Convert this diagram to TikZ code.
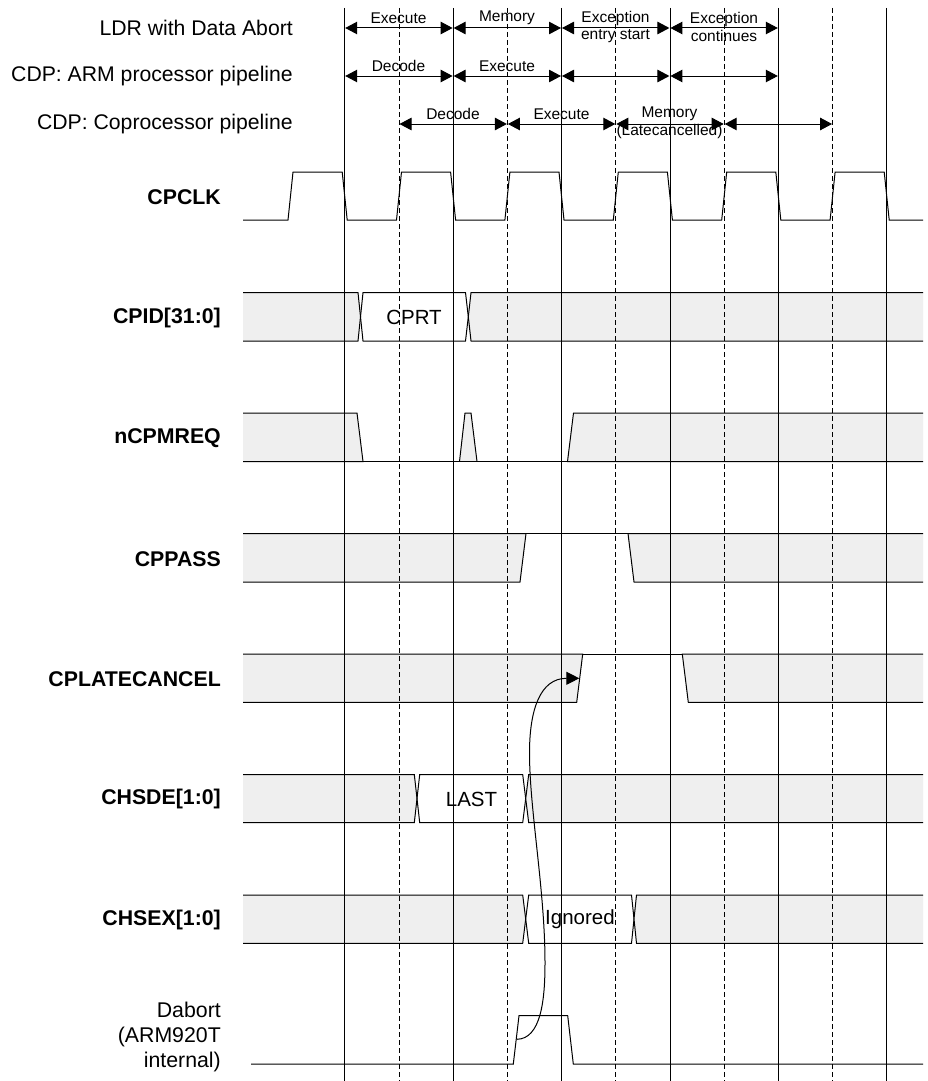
\documentclass[tikz,border=0pt]{standalone}
\usepackage{xcolor}
\usepackage{fontspec}
\setmainfont{Liberation Sans}
\usetikzlibrary{arrows.meta, positioning}
\definecolor{busgrey}{RGB}{239,239,239}

\begin{document}
\begin{tikzpicture}[
      x=1pt, y=-1pt,
      sig/.style={draw, line width=1pt, line join=miter},
      bus/.style={sig, fill=busgrey},
      grid solid/.style={line width=0.8pt},
      grid dash/.style={line width=0.8pt, dash pattern=on 5pt off 3pt},
      span/.style={{Triangle[length=12pt,width=12.5pt]}-{Triangle[length=12pt,width=12.5pt]}, line width=1pt, shorten <=0.5pt, shorten >=0.5pt},
      flow/.style={-{Triangle[length=13pt,width=13pt]}, line width=1pt},
      pipe/.style={anchor=east, inner sep=0pt, font=\fontsize{21.2}{25}\selectfont},
      signame/.style={anchor=east, align=right, inner sep=0pt, font=\fontsize{21.3}{25}\selectfont\bfseries},
      phase/.style={align=center, inner sep=0pt, font=\fontsize{15.5}{17.5}\selectfont},
      value/.style={inner sep=0pt, font=\fontsize{20.5}{24}\selectfont}
    ]
    \useasboundingbox (0,0) rectangle (927,1081);
    \fill[white] (0,0) rectangle (927,1081);

    % grey bus rows
    \draw[bus] (243,292.6) -- (358,292.6) -- (360.5,316.8) -- (358,341) -- (243,341);
    \draw[sig] (360.5,316.8) -- (363,292.6) -- (465.5,292.6) -- (468.3,316.8) -- (465.5,341) -- (363,341) -- cycle;
    \draw[bus] (923,292.6) -- (471,292.6) -- (468.3,316.8) -- (471,341) -- (923,341);

    \draw[bus] (243,413) -- (357,413) -- (363,461.5) -- (243,461.5);
    \draw[bus] (459.5,461.5) -- (465,413) -- (471,413) -- (477,461.5);
    \draw[bus] (923,413) -- (573.5,413) -- (567.5,461.5) -- (923,461.5);
    \draw[sig] (243,461.5) -- (923,461.5);

    \draw[bus] (243,533.5) -- (526,533.5) -- (520,582) -- (243,582);
    \draw[bus] (923,533.5) -- (628,533.5) -- (634,582) -- (923,582);
    \draw[sig] (526,533.5) -- (628,533.5);

    \draw[bus] (243,654) -- (582.7,654) -- (576.7,702.3) -- (243,702.3);
    \draw[bus] (923,654) -- (682.3,654) -- (688.3,702.3) -- (923,702.3);
    \draw[sig] (582.7,654) -- (682.3,654);

    \draw[bus] (243,774.5) -- (414.3,774.5) -- (417,798.6) -- (414.3,822.7) -- (243,822.7);
    \draw[sig] (417,798.6) -- (419.7,774.5) -- (522.7,774.5) -- (525.7,798.6) -- (522.7,822.7) -- (419.7,822.7) -- cycle;
    \draw[bus] (923,774.5) -- (528.7,774.5) -- (525.7,798.6) -- (528.7,822.7) -- (923,822.7);

    \draw[bus] (243,895) -- (522.7,895) -- (525.7,919) -- (522.7,943.3) -- (243,943.3);
    \draw[sig] (525.7,919) -- (528.7,895) -- (631.5,895) -- (634,919) -- (631.5,943.3) -- (528.7,943.3) -- cycle;
    \draw[bus] (923,895) -- (636.5,895) -- (634,919) -- (636.5,943.3) -- (923,943.3);

    % cycle lines
    \foreach \i [evaluate=\i as \xs using 344.7+108.4*\i, evaluate=\i as \xd using 399+108.4*\i] in {0,...,5} {
      \coordinate (s\i) at (\xs,0);
      \draw[grid solid] (\xs,8) -- (\xs,1081);
      \ifnum\i<5
        \coordinate (d\i) at (\xd,0);
        \draw[grid dash] (\xd,8) -- (\xd,1081);
      \fi
    }

    % pipeline stages
    \coordinate (rowa) at (0,28);
    \coordinate (rowb) at (0,76);
    \coordinate (rowc) at (0,124);
    \foreach \i/\j in {0/1,1/2,2/3,3/4} {
      \draw[span] (s\i|-rowa) -- (s\j|-rowa);
      \draw[span] (s\i|-rowb) -- (s\j|-rowb);
      \draw[span] (d\i|-rowc) -- (d\j|-rowc);
    }
    \node[pipe] (ldr) at (293,28) {LDR with Data Abort};
    \node[pipe] (arm) at (293,76) {CDP: ARM processor pipeline};
    \node[pipe] (cop) at (293,124) {CDP: Coprocessor pipeline};

    \node[phase] (aexe) at (398.5,18) {Execute};
    \node[phase] (amem) at (507,18) {Memory};
    \node[phase] (aent) at (615.5,27) {Exception\\entry start};
    \node[phase] (acon) at (724,27) {Exception\\continues};
    \node[phase] (bdec) at (398.5,66) {Decode};
    \node[phase] (bexe) at (507,66) {Execute};
    \node[phase] (cdec) at (453,114) {Decode};
    \node[phase] (cexe) at (561.5,114) {Execute};
    \node[phase] (cmem) at (669.5,123) {Memory\\(Latecancelled)};

    % clock
    \draw[sig] (243,220) -- (288,220) -- (293,172) -- (342.2,172) -- (347.2,220)
      -- (396.5,220) -- (401.5,172) -- (450.6,172) -- (455.6,220)
      -- (504.9,220) -- (509.9,172) -- (559,172) -- (564,220)
      -- (613.3,220) -- (618.3,172) -- (667.4,172) -- (672.4,220)
      -- (721.7,220) -- (726.7,172) -- (775.8,172) -- (780.8,220)
      -- (830.1,220) -- (835.1,172) -- (884.2,172) -- (889.2,220) -- (923,220);

    % Dabort
    \draw[sig] (251,1064) -- (513.3,1064) -- (519,1015.7) -- (567.7,1015.7) -- (573.3,1064) -- (923,1064);
    \coordinate (abortrise) at (516.7,1039.3);
    \coordinate (cancelrise) at (579.3,678.3);
    \draw[flow] (abortrise) .. controls (541,1039) and (545,1000) .. (545,963)
      .. controls (545,890) and (529.5,810) .. (529.5,753)
      .. controls (529.5,710) and (540,678.3) .. (cancelrise);

    % signal names
    \node[signame] (cpclk) at (221,197) {CPCLK};
    \node[signame] (cpid) at (221,318) {CPID[31:0]};
    \node[signame] (ncpmreq) at (221,438) {nCPMREQ};
    \node[signame] (cppass) at (221,559) {CPPASS};
    \node[signame] (cplate) at (221,679) {CPLATECANCEL};
    \node[signame] (chsde) at (221,799) {CHSDE[1:0]};
    \node[signame] (chsex) at (221,920) {CHSEX[1:0]};
    \node[signame, font=\fontsize{21.3}{25}\selectfont] (dabort) at (221,1037) {Dabort\\(ARM920T\\internal)};

    \node[value] (cprt) at (414,317) {CPRT};
    \node[value] (last) at (471.5,799) {LAST};
    \node[value] (ignored) at (580,919.5) {Ignored};
  \end{tikzpicture}
\end{document}
